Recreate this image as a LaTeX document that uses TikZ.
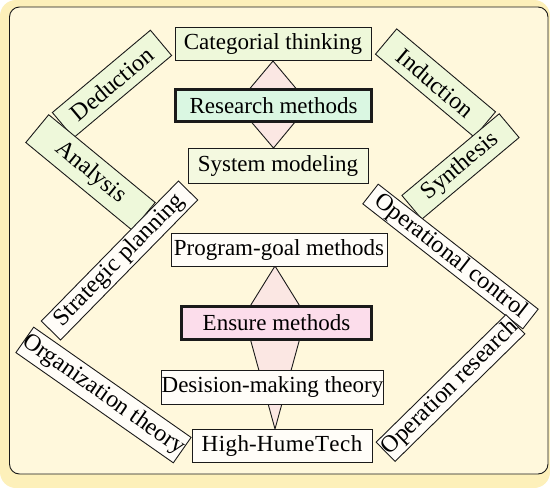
\documentclass[tikz,border=0pt]{standalone}
\usepackage{fontspec}
\setmainfont{Liberation Serif}
\definecolor{bgcream}{HTML}{FFF8DC}
\definecolor{glow}{HTML}{FDF0BA}
\definecolor{lgreen}{HTML}{EEF8DA}
\definecolor{mint}{HTML}{DAF7E2}
\definecolor{sysfill}{HTML}{F4F9E0}
\definecolor{wfill}{HTML}{FFFDF8}
\definecolor{pinkfill}{HTML}{FCDDEB}
\definecolor{diafill}{HTML}{FBE7E3}
\definecolor{edge}{HTML}{1A1A1A}
\tikzset{
  hbox/.style={draw=edge, line width=0.9pt, inner sep=0pt, align=center,
    font=\fontsize{23}{25}\selectfont},
  sbox/.style={draw=edge, line width=0.9pt, inner sep=0pt, align=center,
    font=\fontsize{24}{26}\selectfont},
  thickbox/.style={line width=2.2pt},
  dia/.style={draw=edge, line width=0.9pt, fill=diafill}
}
\begin{document}
\begin{tikzpicture}[x=1pt,y=-1pt]
\useasboundingbox (0,0) rectangle (550,488);
% background
\fill[white] (0,0) rectangle (550,488);
\fill[glow, rounded corners=16pt] (0,0) rectangle (550,488);
\filldraw[fill=bgcream, draw=edge, line width=0.9pt, rounded corners=10pt] (9.5,7) rectangle (548,474);

% diamonds
\coordinate (d1t) at (273,61);
\coordinate (d1r) at (309.5,104.5);
\coordinate (d1b) at (273.5,148);
\coordinate (d1l) at (236.5,104.5);
\draw[dia] (d1t) -- (d1r) -- (d1b) -- (d1l) -- cycle;
\coordinate (d2t) at (275,266);
\coordinate (d2r) at (306,316);
\coordinate (d2b) at (275,429);
\coordinate (d2l) at (244,316);
\draw[dia] (d2t) -- (d2r) -- (d2b) -- (d2l) -- cycle;

% horizontal boxes
\node[hbox, fill=lgreen, minimum width=196pt, minimum height=33pt] (cat) at (273,43.5) {Categorial thinking};
\node[hbox, thickbox, fill=mint, minimum width=196pt, minimum height=32pt] (res) at (273.5,105.5) {Research methods};
\node[hbox, fill=sysfill, minimum width=180pt, minimum height=35pt] (sys) at (278,165.5) {System modeling};
\node[hbox, fill=wfill, minimum width=216pt, minimum height=33pt] (prog) at (279,249.5) {Program-goal methods};
\node[hbox, thickbox, fill=pinkfill, minimum width=190pt, minimum height=33pt] (ens) at (276.5,323) {Ensure methods};
\node[hbox, fill=wfill, minimum width=219pt, minimum height=34pt] (des) at (272.5,387) {Desision-making theory};
\node[hbox, fill=wfill, minimum width=180pt, minimum height=33pt] (high) at (282,445.5) {H\kern0.5pt i\kern0.5pt g\kern0.5pt h-H\kern0.5pt u\kern0.5pt m\kern0.5pt e\kern0.5pt T\kern0.3pt e\kern0.5pt c\kern0.5pt h};

% slanted boxes
\node[sbox, fill=lgreen, minimum width=128pt, minimum height=33pt, rotate=40] (ded) at (112,84) {Deduction};
\node[sbox, fill=lgreen, minimum width=138pt, minimum height=36pt, rotate=-39.5] (ana) at (90.5,172.5) {Analysis};
\node[sbox, fill=lgreen, minimum width=129pt, minimum height=33pt, rotate=-40] (ind) at (435.5,83) {Induction};
\node[sbox, fill=lgreen, minimum width=127pt, minimum height=31pt, rotate=40] (syn) at (460.5,166.5) {Synthesis};
\node[sbox, fill=wfill, minimum width=196pt, minimum height=27pt, rotate=45.6] (str) at (119.5,260.5) {Strategic planning};
\node[sbox, fill=wfill, minimum width=189pt, minimum height=31pt, rotate=-35] (org) at (103.5,395) {Organization theory};
\node[sbox, fill=wfill, minimum width=203pt, minimum height=25pt, rotate=-38] (opc) at (450.5,256.5) {Operational control};
\node[sbox, fill=wfill, minimum width=182pt, minimum height=27pt, rotate=44.5] (opr) at (450.5,388) {Operation research};
\end{tikzpicture}
\end{document}
